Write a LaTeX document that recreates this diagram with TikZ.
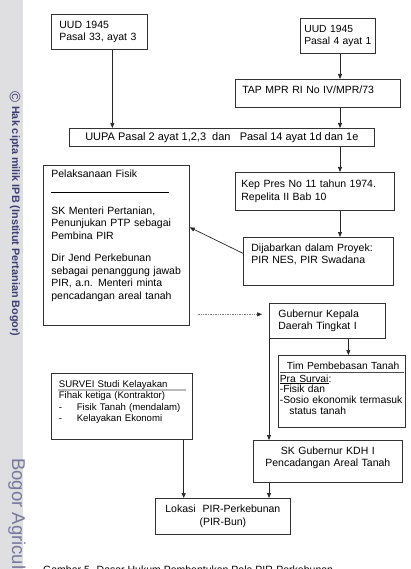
\documentclass[tikz,border=0pt]{standalone}
\usepackage{fontspec}
\setmainfont{Liberation Sans}
\usetikzlibrary{arrows.meta}
\definecolor{ipbblue}{RGB}{62,62,118}
\definecolor{ipbgray}{RGB}{223,223,225}

\begin{document}
\begin{tikzpicture}[
        x=1pt, y=-1pt,
        box/.style={rectangle, draw=black!80, line width=0.7pt, anchor=north west, align=left, inner xsep=6pt, font=\fontsize{10.5}{12.5}\selectfont},
        smallbox/.style={box, font=\fontsize{9.6}{11.5}\selectfont},
        arrow/.style={-{Triangle[length=5pt,width=4pt]}, line width=0.7pt, black!85},
        dotarrow/.style={-{Triangle[length=5pt,width=4pt,color=black!85]}, line width=0.7pt, densely dotted, gray, shorten <=8pt, shorten >=7pt},
        watermark/.style={rotate=-90, text=ipbblue, inner sep=0pt}
        ]

        \useasboundingbox (0,0) rectangle (410,569);
        \clip (0,0) rectangle (410,569);

        % Left strip
        \fill[ipbgray] (0,0) rectangle (23,569);
        \node[watermark, font=\fontsize{15}{15}\selectfont] (copy) at (15,97) {©};
        \node[watermark, anchor=west, font=\bfseries\fontsize{10.8}{10.8}\selectfont] (hakcipta) at (15,106) {Hak cipta milik IPB (Institut Pertanian Bogor)};
        \node[watermark, anchor=west, text=ipbblue!70, font=\fontsize{18.5}{18.5}\selectfont] (bogor) at (17,458) {Bogor Agricultural University};

        % Nodes
        \node (uud33) [box, minimum width=96pt, minimum height=35pt, inner xsep=8pt, text width=80pt] at (51,14) {UUD 1945\\Pasal 33, ayat 3};
        \node (uud4) [box, minimum width=75pt, minimum height=35pt, inner xsep=4pt, text width=67pt, font=\fontsize{10.3}{12.5}\selectfont] at (300,18) {UUD 1945\\Pasal 4 ayat 1};
        \node (tapmpr) [box, minimum width=165pt, minimum height=28pt, inner xsep=7pt, text width=151pt, text depth=7.5pt] at (235,79) {TAP MPR RI No IV/MPR/73};
        \node (uupa) [box, minimum width=305pt, minimum height=18pt, font=\fontsize{11}{13}\selectfont] at (69,128) {UUPA Pasal 2 ayat 1,2,3\ \ dan\ \ \ Pasal 14 ayat 1d dan 1e};
        \node (pelaksanaan) [box, minimum width=146pt, minimum height=160pt, inner xsep=8pt, text width=130pt, text depth=143.5pt] at (43,165) {Pelaksanaan Fisik\\[2pt]\rule[-1pt]{118pt}{0.6pt}\\[10pt]SK Menteri Pertanian,\\Penunjukan PTP sebagai\\Pembina PIR\\[10pt]Dir Jend Perkebunan\\sebagai penanggung jawab\\PIR, a.n. Menteri minta\\pencadangan areal tanah};
        \node (keppres) [box, minimum width=159pt, minimum height=38pt, text width=147pt] at (235,172) {Kep Pres No 11 tahun 1974.\\Repelita II Bab 10};
        \node (proyek) [box, minimum width=150pt, minimum height=48pt, inner xsep=8pt, text width=134pt, text depth=27.5pt] at (243,237) {Dijabarkan dalam Proyek:\\PIR NES, PIR Swadana};
        \node (gubernur) [box, minimum width=116pt, minimum height=35pt, inner xsep=9pt, text width=98pt] at (269,303) {Gubernur Kepala\\Daerah Tingkat I};
        \node (timbebas) [box, minimum width=127pt, minimum height=72pt, inner xsep=1.5pt, text width=124pt, text depth=52pt, font=\fontsize{10.3}{10.8}\selectfont] at (278,355) {\hspace*{7pt}Tim Pembebasan Tanah\\[2.2pt]\underline{Pra Survai}:\\-Fisik dan\\-Sosio ekonomik termasuk\\\hspace*{9.5pt}status tanah};
        \node (survei) [smallbox, minimum width=141pt, minimum height=66pt, inner xsep=7.5pt, text width=126pt, text depth=45pt] at (51,373) {SURVEI Studi Kelayakan\\Fihak ketiga (Kontraktor)\\\makebox[18pt][l]{-}Fisik Tanah (mendalam)\\\makebox[18pt][l]{-}Kelayakan Ekonomi};
        \node (skgub) [box, minimum width=149pt, minimum height=42pt, text width=137pt, text depth=21.5pt, align=center] at (253,440) {SK Gubernur KDH I\\Pencadangan Areal Tanah};
        \node (lokasi) [box, minimum width=135pt, minimum height=36pt, text width=123pt, align=center] at (155,498) {Lokasi\ \ PIR-Perkebunan\\(PIR-Bun)};
        \node (caption) [anchor=base west, inner sep=0pt, font=\fontsize{10.5}{12.5}\selectfont] at (43,573) {Gambar 5. Dasar Hukum Pembentukan Pola PIR-Perkebunan};

        % Rules inside boxes
        \draw[black!70, line width=0.5pt] ([xshift=2pt,yshift=-17pt]timbebas.north west) -- ([xshift=-2pt,yshift=-17pt]timbebas.north east);
        \draw[gray!55, line width=1.2pt] ([xshift=7pt,yshift=-17pt]survei.north west) -- ([xshift=-7pt,yshift=-17pt]survei.north east);

        % Arrows
        \coordinate (col) at (340,0);
        \draw[arrow] ([xshift=13pt]uud33.south) -- ([xshift=13pt]uud33.south |- uupa.north);
        \draw[arrow] (uud4.south -| col) -- (tapmpr.north -| col);
        \draw[arrow] (tapmpr.south -| col) -- (uupa.north -| col);
        \draw[arrow] (uupa.south -| col) -- (keppres.north -| col);
        \draw[arrow] (keppres.south -| col) -- (proyek.north -| col);
        \draw[arrow] ([yshift=8pt]proyek.west) -- ([yshift=18pt]pelaksanaan.east);
        \draw[dotarrow] ([yshift=6.5pt]gubernur.west -| pelaksanaan.east) -- ([yshift=6.5pt]gubernur.west);
        \draw[arrow] ([xshift=21pt]gubernur.south) -- ([xshift=21pt]gubernur.south |- timbebas.north);
        \draw[arrow] (gubernur.south west) -- (gubernur.south west |- skgub.north);
        \draw[arrow] ([xshift=-9pt]survei.south east) -- ([xshift=-9pt]survei.south east |- lokasi.north);
        \draw[arrow] (gubernur.south west |- skgub.south) -- (gubernur.south west |- lokasi.north);

\end{tikzpicture}
\end{document}
